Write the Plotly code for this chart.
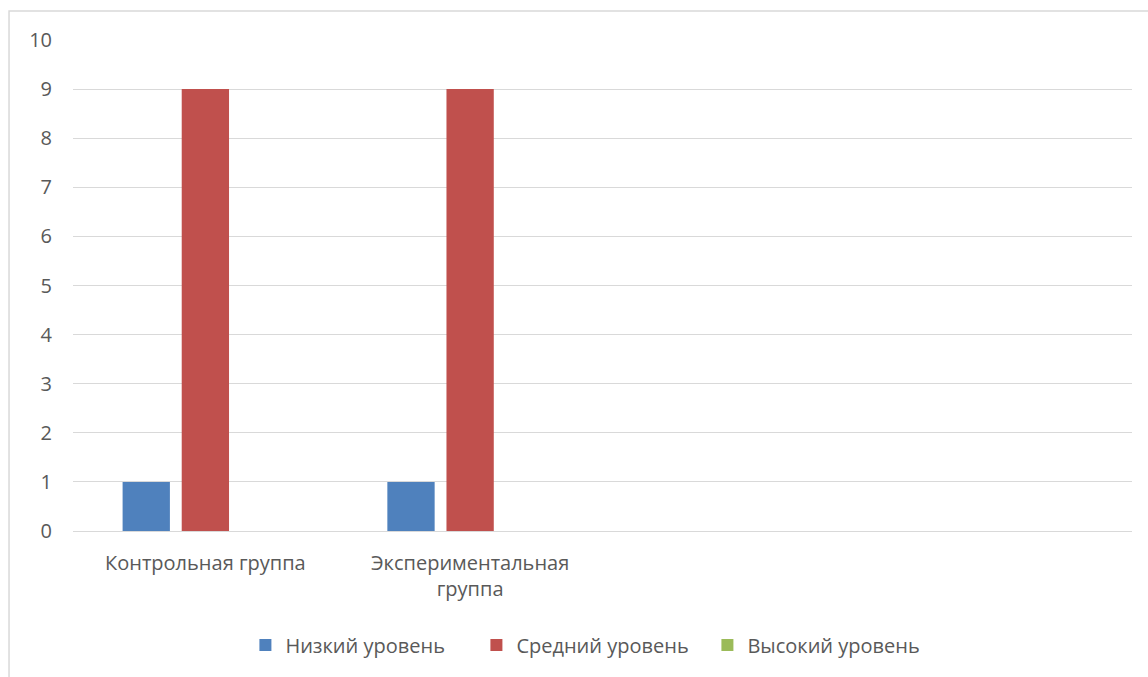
import plotly.graph_objects as go

# Categories (two trailing slots are left empty on the axis)
positions = [0, 1, 2, 3]
group_labels = ["Контрольная группа", "Экспериментальная<br>группа", "", ""]

series_names = ["Низкий уровень", "Средний уровень", "Высокий уровень"]
low_level = [1, 1, None, None]
mid_level = [9, 9, None, None]
high_level = [0, 0, None, None]
series_colors = ["#4f81bd", "#c0504d", "#9bbb59"]

y_ticks = list(range(0, 11))

font_family = "Open Sans, Lato, Noto Sans, sans-serif"
text_color = "#595959"
grid_color = "#d9d9d9"

fig = go.Figure()
for name, vals, col in zip(series_names, [low_level, mid_level, high_level], series_colors):
    fig.add_trace(go.Bar(x=positions, y=vals, name=name, marker=dict(color=col, line=dict(width=0))))

fig.update_layout(
    width=1148,
    height=677,
    barmode="group",
    bargap=0.33,
    bargroupgap=0.2,
    plot_bgcolor="white",
    paper_bgcolor="white",
    margin=dict(l=73, r=16, t=40, b=146),
    font=dict(family=font_family, size=20, color=text_color),
    showlegend=True,
    legend=dict(
        orientation="h",
        x=0.49,
        xanchor="center",
        y=-0.232,
        yanchor="middle",
        font=dict(size=20, color=text_color),
        itemwidth=30,
        entrywidth=186,
        entrywidthmode="pixels",
        traceorder="normal",
    ),
    xaxis=dict(
        range=[-0.5, 3.5],
        tickmode="array",
        tickvals=positions,
        ticktext=group_labels,
        showgrid=False,
        zeroline=False,
        showline=False,
        ticks="",
        ticklabelstandoff=18,
        tickfont=dict(size=20, color=text_color),
    ),
    yaxis=dict(
        range=[0, 10],
        tickmode="array",
        tickvals=y_ticks,
        showgrid=True,
        gridcolor=grid_color,
        gridwidth=1,
        zeroline=True,
        zerolinecolor=grid_color,
        zerolinewidth=1,
        showline=False,
        ticks="",
        ticklabelstandoff=20,
        tickfont=dict(size=20, color=text_color),
    ),
    shapes=[
        dict(
            type="rect",
            xref="paper",
            yref="paper",
            x0=-0.0604,
            x1=1.2,
            y0=-0.5,
            y1=1.059,
            line=dict(color="#d9d9d9", width=1.5),
            fillcolor="rgba(0,0,0,0)",
            layer="below",
        )
    ],
)

fig.write_html("out.html")
